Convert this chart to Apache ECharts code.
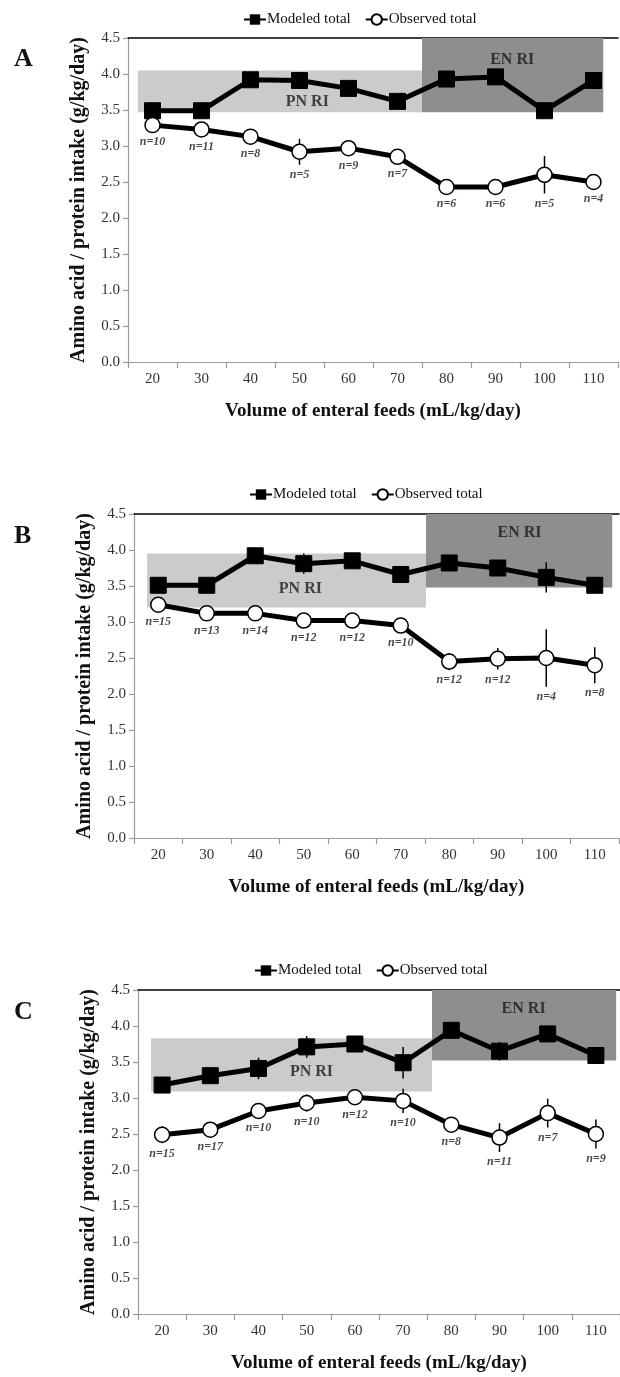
<!DOCTYPE html>
<html>
<head>
<meta charset="utf-8">
<script src="https://cdn.jsdelivr.net/npm/echarts@6/dist/echarts.min.js"></script>
<style>
html,body{margin:0;padding:0;background:#fff;}
#chart{width:620px;height:1377px;}
</style>
</head>
<body>
<div id="chart"></div>
<script>
// ---------- data ----------
const categories = ['20','30','40','50','60','70','80','90','100','110'];
const volumes = [20,30,40,50,60,70,80,90,100,110];

// Panel A
const modeledA = [3.49,3.49,3.92,3.91,3.80,3.62,3.93,3.96,3.49,3.91];
const modeledErrA = [0,0,0,0.10,0,0,0,0,0,0];
const observedA = [3.29,3.23,3.13,2.92,2.97,2.85,2.43,2.43,2.60,2.50];
const observedErrA = [0,0,0,0.18,0,0,0,0,0.26,0];
const nA = [10,11,8,5,9,7,6,6,5,4];
const pnRiA = [17, 75, 3.47, 4.05];   // [x from, x to, y from, y to]
const enRiA = [75, 112, 3.47, 4.5];

// Panel B
const modeledB = [3.51,3.51,3.92,3.81,3.85,3.66,3.82,3.75,3.62,3.51];
const modeledErrB = [0,0,0,0.14,0.03,0.05,0.10,0.03,0.21,0.05];
const observedB = [3.24,3.12,3.12,3.02,3.02,2.95,2.45,2.49,2.50,2.40];
const observedErrB = [0,0,0,0,0,0,0.12,0.15,0.40,0.25];
const nB = [15,13,14,12,12,10,12,12,4,8];
const pnRiB = [17.7, 75.2, 3.2, 3.95];
const enRiB = [75.2, 113.6, 3.48, 4.5];

// Panel C
const modeledC = [3.18,3.31,3.41,3.71,3.75,3.49,3.94,3.65,3.89,3.59];
const modeledErrC = [0,0.08,0.15,0.15,0.03,0.22,0,0.13,0,0];
const observedC = [2.49,2.56,2.82,2.93,3.01,2.96,2.63,2.45,2.79,2.50];
const observedErrC = [0.12,0.06,0.04,0.12,0.03,0.17,0.10,0.20,0.20,0.20];
const nC = [15,17,10,10,12,10,8,11,7,9];
const pnRiC = [17.7, 76, 3.09, 3.83];
const enRiC = [76, 114.2, 3.52, 4.5];

const modeledName = 'Modeled total';
const observedName = 'Observed total';
const xTitle = 'Volume of enteral feeds (mL/kg/day)';
const yTitle = 'Amino acid / protein intake (g/kg/day)';

// ---------- layout / style ----------
const FONT = '"Liberation Serif", "DejaVu Serif", serif';
const panels = [
  {letter:'A', modeled:modeledA, modeledErr:modeledErrA, observed:observedA, observedErr:observedErrA, n:nA, pn:pnRiA, en:enRiA,
   grid:{left:128, top:38, width:490, height:324}, legendLeft:238, legendTop:7, letterY:46,
   pnText:[51.6,3.62], enText:[93.4,4.19], xNameGap:40, yNameGap:39},
  {letter:'B', modeled:modeledB, modeledErr:modeledErrB, observed:observedB, observedErr:observedErrB, n:nB, pn:pnRiB, en:enRiB,
   grid:{left:134, top:514, width:485, height:324}, legendLeft:244, legendTop:482, letterY:523,
   pnText:[49.3,3.46], enText:[94.5,4.24], xNameGap:40, yNameGap:39},
  {letter:'C', modeled:modeledC, modeledErr:modeledErrC, observed:observedC, observedErr:observedErrC, n:nC, pn:pnRiC, en:enRiC,
   grid:{left:138, top:990, width:482, height:324}, legendLeft:249, legendTop:958, letterY:999,
   pnText:[51,3.36], enText:[95,4.24], xNameGap:40, yNameGap:39}
];

function renderErr(params, api){
  const x = api.value(0), lo = api.value(1), hi = api.value(2);
  if (!(hi - lo > 0)) return null;
  const p1 = api.coord([x, lo]), p2 = api.coord([x, hi]);
  return {type:'line', shape:{x1:p1[0], y1:p1[1], x2:p2[0], y2:p2[1]}, style:{stroke:'#000', lineWidth:1.5}};
}

const option = {
  animation:false,
  backgroundColor:'#fff',
  textStyle:{fontFamily:FONT},
  grid:[], xAxis:[], yAxis:[], legend:[], series:[], graphic:[]
};

panels.forEach((p, i) => {
  option.grid.push(Object.assign({containLabel:false}, p.grid));
  option.xAxis.push({
    type:'category', gridIndex:i, data:categories, boundaryGap:true, position:'bottom',
    axisLine:{show:true, lineStyle:{color:'#9a9a9a', width:1.2}},
    axisTick:{show:true, length:6, lineStyle:{color:'#9a9a9a', width:1.2}},
    axisLabel:{color:'#333', fontSize:15, fontFamily:FONT, margin:10},
    splitLine:{show:false},
    name:xTitle, nameLocation:'middle', nameGap:p.xNameGap,
    nameTextStyle:{fontSize:19, fontWeight:'bold', color:'#111', fontFamily:FONT}
  });
  option.xAxis.push({
    type:'value', gridIndex:i, min:15, max:115, position:'top',
    axisLine:{show:true, lineStyle:{color:'#000', width:1.5}},
    axisTick:{show:false}, axisLabel:{show:false}, splitLine:{show:false}
  });
  option.yAxis.push({
    type:'value', gridIndex:i, min:0, max:4.5, interval:0.5,
    axisLine:{show:true, lineStyle:{color:'#9a9a9a', width:1.2}},
    axisTick:{show:true, length:5, lineStyle:{color:'#9a9a9a', width:1.2}},
    axisLabel:{color:'#333', fontSize:15, fontFamily:FONT, margin:8, formatter:v => v.toFixed(1)},
    splitLine:{show:false},
    name:yTitle, nameLocation:'middle', nameGap:p.yNameGap, nameRotate:90,
    nameTextStyle:{fontSize:20, fontWeight:'bold', color:'#111', fontFamily:FONT}
  });
  option.legend.push({
    left:p.legendLeft, top:p.legendTop, itemWidth:22, itemHeight:13, itemGap:14,
    data:[modeledName, observedName], selectedMode:false,
    textStyle:{fontSize:15, color:'#111', fontFamily:FONT, padding:[0,0,0,-4]}
  });
  const xi = i*2 + 1;
  option.series.push({
    type:'line', name:'ri'+p.letter, xAxisIndex:xi, yAxisIndex:i, data:[], silent:true, z:1,
    markArea:{silent:true, z:1, data:[
      [{coord:[p.pn[0], p.pn[2]], itemStyle:{color:'#cbcbcb'}}, {coord:[p.pn[1], p.pn[3]]}],
      [{coord:[p.en[0], p.en[2]], itemStyle:{color:'#8e8e8e'}}, {coord:[p.en[1], p.en[3]]}]
    ]}
  });
  option.series.push({
    type:'scatter', name:'riText'+p.letter, xAxisIndex:xi, yAxisIndex:i, z:2, silent:true,
    symbolSize:1, itemStyle:{color:'rgba(0,0,0,0)'},
    data:[{value:[p.pnText[0], p.pnText[1]], name:'PN RI'}, {value:[p.enText[0], p.enText[1]], name:'EN RI'}],
    label:{show:true, position:'inside', formatter:d => d.name, fontSize:16, fontWeight:'bold', color:'#1a1a1a', fontFamily:FONT}
  });
  option.series.push({
    type:'custom', name:'errM'+p.letter, xAxisIndex:xi, yAxisIndex:i, z:3, silent:true,
    renderItem:renderErr, encode:{x:0, y:[1,2]},
    data:volumes.map((v,k) => [v, p.modeled[k]-p.modeledErr[k], p.modeled[k]+p.modeledErr[k]])
  });
  option.series.push({
    type:'custom', name:'errO'+p.letter, xAxisIndex:xi, yAxisIndex:i, z:3, silent:true,
    renderItem:renderErr, encode:{x:0, y:[1,2]},
    data:volumes.map((v,k) => [v, p.observed[k]-p.observedErr[k], p.observed[k]+p.observedErr[k]])
  });
  option.series.push({
    type:'line', name:modeledName, xAxisIndex:xi, yAxisIndex:i, z:4,
    data:volumes.map((v,k) => [v, p.modeled[k]]),
    symbol:'rect', symbolSize:16, showAllSymbol:true,
    itemStyle:{color:'#000', borderColor:'#000'},
    lineStyle:{color:'#000', width:5}
  });
  option.series.push({
    type:'line', name:observedName, xAxisIndex:xi, yAxisIndex:i, z:4,
    data:volumes.map((v,k) => [v, p.observed[k]]),
    symbol:'circle', symbolSize:15, showAllSymbol:true,
    itemStyle:{color:'#fff', borderColor:'#000', borderWidth:1.5},
    lineStyle:{color:'#000', width:5}
  });
  option.series.push({
    type:'scatter', name:'n'+p.letter, xAxisIndex:xi, yAxisIndex:i, z:5, silent:true,
    symbolSize:1, itemStyle:{color:'rgba(0,0,0,0)'},
    data:volumes.map((v,k) => [v, p.observed[k] - Math.max(0.24, p.observedErr[k] + 0.14), p.n[k]]),
    label:{show:true, position:'inside', formatter:d => 'n=' + d.value[2], fontSize:12, fontWeight:'bold', fontStyle:'italic', color:'#1a1a1a', fontFamily:FONT}
  });
  option.graphic.push({
    type:'text', left:14, top:p.letterY,
    style:{text:p.letter, font:'bold 26px ' + FONT, fill:'#111'}
  });
});

const chart = echarts.init(document.getElementById('chart'), null, {renderer:'canvas'});
chart.setOption(option);
</script>
</body>
</html>
